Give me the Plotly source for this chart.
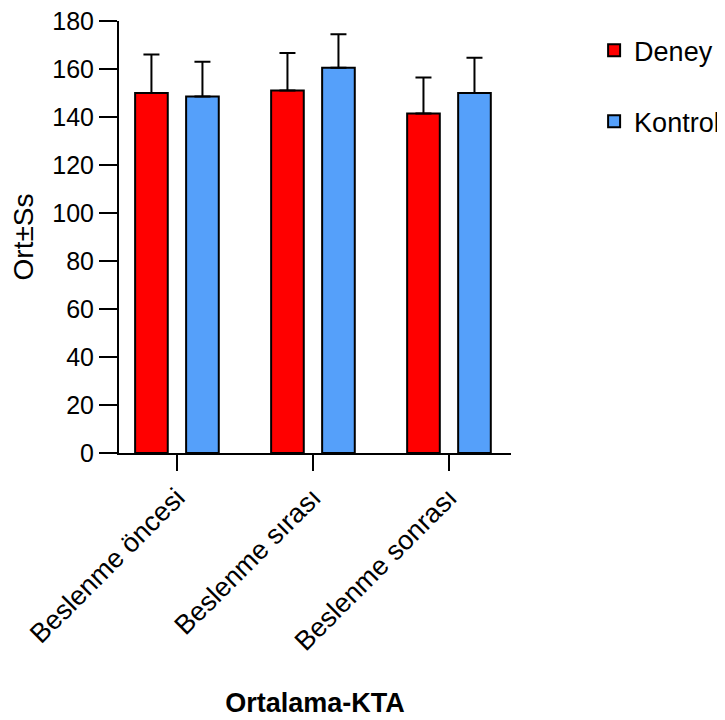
import plotly.graph_objects as go

categories = ["Beslenme öncesi", "Beslenme sırası", "Beslenme sonrası"]
deney_mean = [150, 151, 141.5]
deney_sd = [16, 15.7, 15]
kontrol_mean = [148.5, 160.5, 150]
kontrol_sd = [14.5, 14, 14.7]
y_ticks = [0, 20, 40, 60, 80, 100, 120, 140, 160, 180]

FONT = "Liberation Sans, Arial, sans-serif"

fig = go.Figure()
fig.add_trace(go.Bar(
    name="Deney", x=categories, y=deney_mean,
    marker=dict(color="#FF0000", line=dict(color="black", width=2)),
    error_y=dict(type="data", array=deney_sd, arrayminus=[0]*len(deney_sd),
                 symmetric=False, color="black", thickness=2, width=8),
    legendgroup="a",
))
fig.add_trace(go.Bar(
    name="Kontrol", x=categories, y=kontrol_mean,
    marker=dict(color="#55A0FA", line=dict(color="black", width=2)),
    error_y=dict(type="data", array=kontrol_sd, arrayminus=[0]*len(kontrol_sd),
                 symmetric=False, color="black", thickness=2, width=8),
    legendgroup="b",
))

fig.update_layout(
    width=725, height=720,
    margin=dict(l=111, r=222, t=13, b=275, autoexpand=False),
    paper_bgcolor="white", plot_bgcolor="white",
    barmode="group", bargap=0.25, bargroupgap=0.36,
    font=dict(family=FONT, size=24, color="black"),
    showlegend=True,
    legend=dict(x=1.212, y=0.988, xanchor="left", yanchor="top",
                font=dict(size=27), traceorder="grouped", tracegroupgap=33,
                bgcolor="rgba(0,0,0,0)"),
    xaxis=dict(
        range=[-0.426, 2.456], showline=True, linecolor="black", linewidth=2,
        ticks="outside", ticklen=16, tickwidth=2, tickcolor="black",
        tickangle=-45, showgrid=False, zeroline=False,
        tickfont=dict(size=27),
        title=dict(text="<b>Ortalama-KTA</b>", font=dict(size=27), standoff=38),
    ),
    yaxis=dict(
        range=[0, 180], tickvals=y_ticks, showline=True, linecolor="black", linewidth=2,
        ticks="outside", ticklen=18, tickwidth=2, tickcolor="black",
        ticklabeloverflow="allow",
        showgrid=False, zeroline=False, tickfont=dict(size=25),
        title=dict(text="Ort±Ss", font=dict(size=28), standoff=15),
    ),
)

fig.write_html("out.html")
